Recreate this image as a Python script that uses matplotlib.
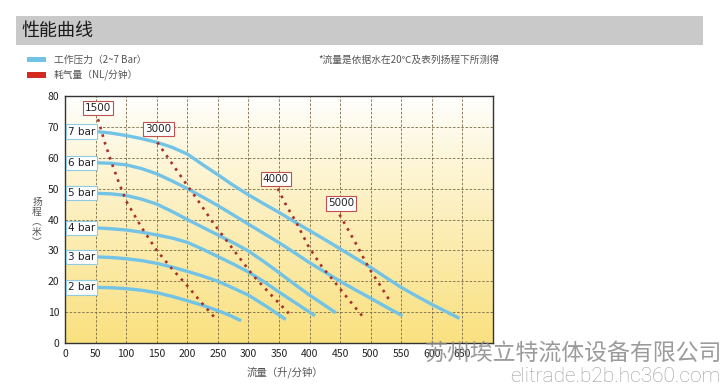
import matplotlib
matplotlib.use("Agg")
import matplotlib.pyplot as plt
import numpy as np
from matplotlib.patches import Rectangle

plt.rcParams['font.family'] = ['Noto Sans CJK SC', 'DejaVu Sans']

# pressure curves (flow L/min, head m)
bar_names = ['2 bar', '3 bar', '4 bar', '5 bar', '6 bar', '7 bar']
bar_x = [
    [50, 75, 100, 125, 150, 175, 200, 225, 250, 270, 288],
    [50, 75, 100, 125, 150, 175, 200, 225, 250, 275, 300, 330, 361],
    [50, 75, 100, 125, 150, 175, 200, 225, 250, 275, 300, 325, 350, 380, 409],
    [50, 75, 100, 125, 150, 175, 200, 225, 250, 275, 300, 325, 350, 375, 400, 443],
    [50, 75, 100, 125, 150, 175, 200, 225, 250, 275, 300, 325, 350, 375, 400, 425,
     450, 475, 500, 525, 552],
    [50, 75, 100, 125, 150, 175, 200, 225, 250, 275, 300, 325, 350, 375, 400, 425,
     450, 475, 500, 525, 550, 575, 600, 645],
]
bar_y = [
    [18.0, 17.9, 17.6, 17.1, 16.3, 15.1, 13.7, 12.2, 10.5, 8.9, 7.2],
    [27.9, 27.7, 27.3, 26.7, 25.8, 24.6, 23.2, 21.7, 20.0, 17.8, 15.5, 11.8, 7.6],
    [37.3, 37.0, 36.6, 35.9, 35.0, 34.0, 32.6, 30.4, 28.0, 25.6, 23.0, 19.9, 16.5,
     12.6, 8.8],
    [48.5, 48.3, 47.8, 46.6, 45.0, 42.6, 40.0, 37.5, 35.0, 32.5, 29.8, 26.4, 22.8,
     19.1, 15.5, 9.8],
    [58.4, 58.2, 57.7, 56.5, 54.8, 52.5, 50.0, 47.3, 44.5, 41.5, 38.5, 35.5, 32.5,
     29.3, 26.0, 23.0, 20.0, 17.2, 14.5, 11.7, 8.8],
    [68.5, 68.0, 67.2, 66.2, 65.0, 63.4, 61.2, 57.8, 54.5, 51.1, 48.0, 45.1, 42.3,
     39.3, 36.4, 33.5, 30.5, 27.5, 24.5, 21.2, 18.0, 15.2, 12.5, 8.0],
]

# air consumption lines (NL/min)
air_names = ['1500', '3000', '4000', '5000']
air_x = [
    [54, 65, 76, 88, 100, 125, 150, 175, 198, 220, 244],
    [151, 172, 193, 218, 242, 263, 285, 307, 336, 366],
    [348, 362, 377, 399, 421, 440, 463, 486],
    [449, 475, 497, 515, 532],
]
air_y = [
    [72.5, 65.0, 58.5, 52.0, 46.0, 37.5, 30.0, 24.0, 19.0, 13.8, 8.4],
    [65.0, 59.0, 53.0, 46.0, 39.0, 33.5, 27.7, 22.0, 15.8, 9.6],
    [50.0, 44.5, 39.5, 31.0, 24.5, 20.0, 14.3, 8.8],
    [41.6, 32.5, 24.3, 18.8, 13.4],
]
air_label_pos = [(54, 76.2), (153, 69.3), (345, 53.2), (451, 45.2)]

blue = '#72C3E6'
red = '#A8302A'

fig = plt.figure(figsize=(7.27, 3.89), dpi=100)

# header band
fig.patches.append(Rectangle((0.022, 0.884), 0.945, 0.075, transform=fig.transFigure,
                             facecolor='#C9C9C9', edgecolor='none', zorder=0))
fig.text(0.029, 0.921, '性能曲线', fontsize=13, color='#1a1a1a', va='center', ha='left')

# legend
fig.patches.append(Rectangle((27/727, 1-62/389), 19/727, 5/389, transform=fig.transFigure,
                             facecolor=blue, edgecolor='none'))
fig.patches.append(Rectangle((27/727, 1-77.5/389), 19/727, 5.5/389, transform=fig.transFigure,
                             facecolor='#D42A20', edgecolor='none'))
fig.text(54/727, 1-60/389, '工作压力（2~7 Bar）', fontsize=7, color='#555555', va='center')
fig.text(54/727, 1-75/389, '耗气量（NL/分钟）', fontsize=7, color='#555555', va='center')
fig.text(318/727, 1-60/389, '*流量是依据水在20℃及表列扬程下所测得', fontsize=7,
         color='#555555', va='center')

ax = fig.add_axes([65/727, 1-343/389, 428/727, 247/389])
ax.set_xlim(0, 700)
ax.set_ylim(0, 80)

# background gradient white -> yellow
grad = np.linspace(0, 1, 256).reshape(-1, 1)
c_top = np.array([1.0, 1.0, 1.0])
c_bot = np.array([0.98, 0.88, 0.50])
img = c_top + (c_bot - c_top) * grad[::-1] ** 0.9
img = img.reshape(256, 1, 3)
ax.imshow(img, extent=[0, 700, 0, 80], aspect='auto', origin='lower', zorder=0)

ax.set_xticks(np.arange(0, 700, 50))
ax.set_yticks(np.arange(0, 90, 10))
ax.grid(True, linestyle=(0, (3, 2)), color='#7a6a45', linewidth=0.6, zorder=1)
ax.tick_params(length=0, labelsize=7.5, colors='#222222', pad=4)
for s in ax.spines.values():
    s.set_color('#333333')
    s.set_linewidth(1.0)

for name, xs, ys in zip(bar_names, bar_x, bar_y):
    ax.plot(xs, ys, color=blue, linewidth=2.4, solid_capstyle='butt',
            solid_joinstyle='round', zorder=3)
    ax.text(27, ys[0], name, fontsize=7.5, color='#222222', ha='center', va='center', zorder=5,
            family=['DejaVu Sans'],
            bbox=dict(boxstyle='square,pad=0.2', facecolor='white', edgecolor='#8FCBE3',
                      linewidth=0.8))

for name, xs, ys, pos in zip(air_names, air_x, air_y, air_label_pos):
    ax.plot(xs, ys, color=red, linewidth=1.9, linestyle=(0, (1, 2.0)), zorder=4)
    ax.text(pos[0], pos[1], name, fontsize=7.5, color='#222222', ha='center', va='center',
            zorder=5, family=['DejaVu Sans'],
            bbox=dict(boxstyle='square,pad=0.2', facecolor='white', edgecolor='#C0504D',
                      linewidth=0.8))

# vertical y label, one character per line
ylab_chars = ['扬', '程', '︵', '米', '︶']
for i, ch in enumerate(ylab_chars):
    fig.text(37/727, 1-(202 + i*10)/389, ch, fontsize=7, color='#555555',
             ha='center', va='center')
fig.text(285/727, 1-372/389, '流量（升/分钟）', fontsize=7.5, color='#555555',
         ha='center', va='center')

# watermark
fig.text(722/727, 1-353/389, '苏州埃立特流体设备有限公司', fontsize=16.5, color='#8a8a8a',
         ha='right', va='center', alpha=0.85)
fig.text(720/727, 1-376/389, 'elitrade.b2b.hc360.com', fontsize=15, color='#8a8a8a',
         ha='right', va='center', alpha=0.85, family=['Roboto', 'DejaVu Sans'],
         fontweight='light')

fig.savefig('out.png', dpi=100)
